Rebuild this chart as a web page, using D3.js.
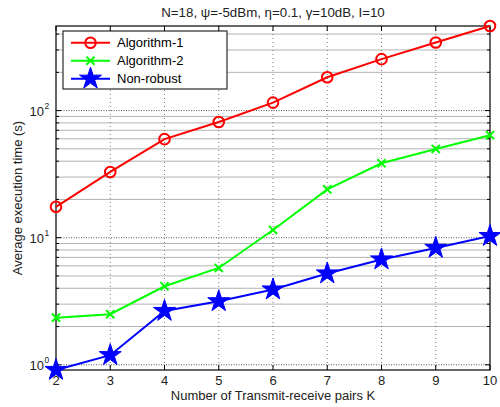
<!DOCTYPE html>
<html>
<head>
<meta charset="utf-8">
<script src="https://cdn.jsdelivr.net/npm/d3@7"></script>
<style>
  body { margin: 0; background: #fff; }
  svg { display: block; font-family: "Liberation Sans", Arial, sans-serif; }
</style>
</head>
<body>
<div id="chart"></div>
<script>
// data
let kValues = [2, 3, 4, 5, 6, 7, 8, 9, 10];
let alg1 = [17.5, 32.9, 59.6, 81.3, 115.6, 183, 254, 343, 463];
let alg2 = [2.35, 2.50, 4.15, 5.78, 11.5, 24.0, 38.5, 49.9, 64.0];
let nonRobust = [0.91, 1.19, 2.65, 3.16, 3.91, 5.23, 6.74, 8.31, 10.3];
let seriesNames = ['Algorithm-1', 'Algorithm-2', 'Non-robust'];
let xTicks = [2, 3, 4, 5, 6, 7, 8, 9, 10];
let yDecades = [0, 1, 2];
let title = 'N=18, \u03c8=-5dBm, \u03b7=0.1, \u03b3=10dB, I=10';

let svg_width = 500;
let svg_height = 407;
let margin = {top: 26, right: 10, bottom: 37, left: 56};

let svg = d3.select('#chart')
    .append('svg')
    .attr('width', svg_width)
    .attr('height', svg_height);

let allVals = alg1.concat(alg2, nonRobust);
let x = d3.scaleLinear()
    .domain(d3.extent(kValues))
    .range([margin.left, svg_width - margin.right]);
let y = d3.scaleLog()
    .domain(d3.extent(allVals))
    .range([svg_height - margin.bottom, margin.top]);

let x0 = x.range()[0], x1 = x.range()[1];
let yb = y.range()[0], yt = y.range()[1];

// minor log ticks (2..9 in each decade) inside the domain
let minor = [];
for (let e = -1; e <= 2; e++) {
    for (let m = 2; m <= 9; m++) {
        let v = m * Math.pow(10, e);
        if (v >= y.domain()[0] && v <= y.domain()[1]) minor.push(v);
    }
}

let grid = svg.append('g');
// minor y grid
grid.selectAll('.ymin').data(minor).enter().append('line')
    .attr('x1', x0).attr('x2', x1)
    .attr('y1', d => y(d)).attr('y2', d => y(d))
    .attr('stroke', '#b2b2b2').attr('stroke-width', 1);
// major y grid
grid.selectAll('.ymaj').data(yDecades).enter().append('line')
    .attr('x1', x0).attr('x2', x1)
    .attr('y1', d => y(Math.pow(10, d))).attr('y2', d => y(Math.pow(10, d)))
    .attr('stroke', '#555').attr('stroke-width', 1).attr('stroke-dasharray', '1,1.5');
// x grid
grid.selectAll('.xg').data(xTicks.slice(1, -1)).enter().append('line')
    .attr('x1', d => x(d)).attr('x2', d => x(d))
    .attr('y1', yt).attr('y2', yb)
    .attr('stroke', '#777').attr('stroke-width', 1).attr('stroke-dasharray', '1,3');

// ticks (inside, on all four sides)
let ticks = svg.append('g').attr('stroke', '#000').attr('stroke-width', 1);
xTicks.forEach(function(d) {
    ticks.append('line').attr('x1', x(d)).attr('x2', x(d)).attr('y1', yb).attr('y2', yb - 5);
    ticks.append('line').attr('x1', x(d)).attr('x2', x(d)).attr('y1', yt).attr('y2', yt + 5);
});
yDecades.forEach(function(d) {
    let yy = y(Math.pow(10, d));
    ticks.append('line').attr('x1', x0).attr('x2', x0 + 5).attr('y1', yy).attr('y2', yy);
    ticks.append('line').attr('x1', x1).attr('x2', x1 - 5).attr('y1', yy).attr('y2', yy);
});
minor.forEach(function(d) {
    let yy = y(d);
    ticks.append('line').attr('x1', x0).attr('x2', x0 + 3).attr('y1', yy).attr('y2', yy);
    ticks.append('line').attr('x1', x1).attr('x2', x1 - 3).attr('y1', yy).attr('y2', yy);
});

// axes box
svg.append('rect')
    .attr('x', x0).attr('y', yt)
    .attr('width', x1 - x0).attr('height', yb - yt)
    .attr('fill', 'none').attr('stroke', '#000').attr('stroke-width', 1.2);

// x tick labels
svg.selectAll('.xl').data(xTicks).enter().append('text')
    .attr('x', d => x(d)).attr('y', yb + 15)
    .attr('text-anchor', 'middle').attr('font-size', 13).attr('fill', '#222')
    .text(d => d);

// y tick labels 10^n
yDecades.forEach(function(d) {
    svg.append('text')
        .attr('x', x0 - 12).attr('y', y(Math.pow(10, d)) + 5)
        .attr('text-anchor', 'end').attr('font-size', 13).attr('fill', '#222')
        .text('10');
    svg.append('text')
        .attr('x', x0 - 11.5).attr('y', y(Math.pow(10, d)) - 1.5)
        .attr('font-size', 8.5).attr('fill', '#222')
        .text(d);
});

// title and axis labels
svg.append('text').attr('x', (x0 + x1) / 2).attr('y', 17)
    .attr('text-anchor', 'middle').attr('font-size', 13.3).attr('fill', '#222')
    .text(title);
svg.append('text').attr('x', (x0 + x1) / 2).attr('y', 400)
    .attr('text-anchor', 'middle').attr('font-size', 13).attr('fill', '#222')
    .text('Number of Transmit-receive pairs K');
svg.append('text')
    .attr('transform', 'translate(22,' + ((yt + yb) / 2) + ') rotate(-90)')
    .attr('text-anchor', 'middle').attr('font-size', 13).attr('fill', '#222')
    .text('Average execution time (s)');

// series
let series = [
    {name: seriesNames[0], values: alg1, color: '#ff0000', marker: 'circle'},
    {name: seriesNames[1], values: alg2, color: '#00ff00', marker: 'cross'},
    {name: seriesNames[2], values: nonRobust, color: '#0000ff', marker: 'star'}
];

let line = d3.line()
    .x((d, i) => x(kValues[i]))
    .y(d => y(d));

function drawMarker(g, s, cx, cy) {
    if (s.marker === 'circle') {
        g.append('circle').attr('cx', cx).attr('cy', cy).attr('r', 5.3)
            .attr('fill', 'none').attr('stroke', s.color).attr('stroke-width', 2);
    } else if (s.marker === 'cross') {
        g.append('path')
            .attr('d', d3.symbol().type(d3.symbolX).size(45)())
            .attr('transform', 'translate(' + cx + ',' + cy + ')')
            .attr('fill', 'none').attr('stroke', s.color).attr('stroke-width', 2);
    } else {
        g.append('path')
            .attr('d', d3.symbol().type(d3.symbolStar).size(150)())
            .attr('transform', 'translate(' + cx + ',' + cy + ')')
            .attr('fill', s.color).attr('stroke', s.color).attr('stroke-width', 1);
    }
}

series.forEach(function(s) {
    let g = svg.append('g');
    g.append('path').datum(s.values)
        .attr('d', line)
        .attr('fill', 'none').attr('stroke', s.color).attr('stroke-width', 2);
    s.values.forEach(function(v, i) {
        drawMarker(g, s, x(kValues[i]), y(v));
    });
});

// legend
let leg = svg.append('g');
leg.append('rect').attr('x', 63).attr('y', 31).attr('width', 164).attr('height', 58)
    .attr('fill', '#fff').attr('stroke', '#000').attr('stroke-width', 1);
series.forEach(function(s, i) {
    let ly = 42.7 + i * 18;
    leg.append('line').attr('x1', 71).attr('x2', 110).attr('y1', ly).attr('y2', ly)
        .attr('stroke', s.color).attr('stroke-width', 2);
    drawMarker(leg, s, 90.5, ly);
    leg.append('text').attr('x', 117).attr('y', ly + 4.5)
        .attr('font-size', 13).attr('fill', '#000').text(s.name);
});
</script>
</body>
</html>
